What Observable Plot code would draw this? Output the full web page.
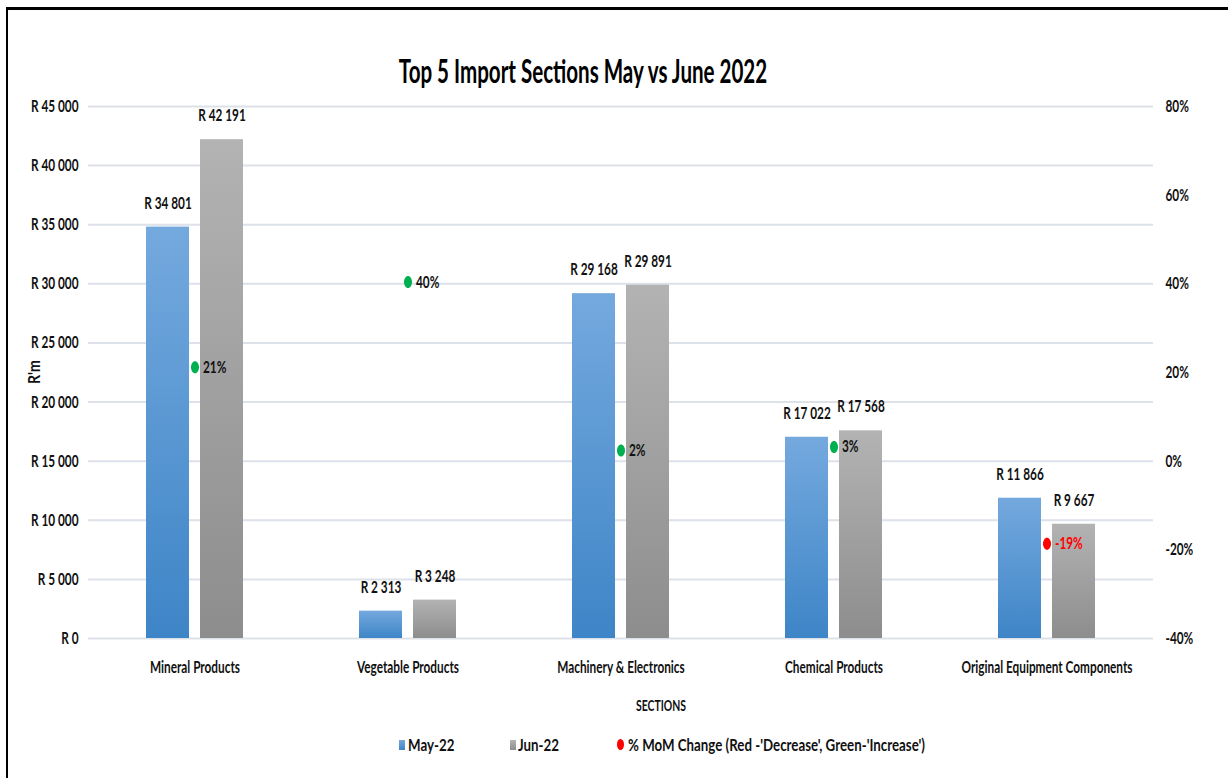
<!DOCTYPE html>
<html>
<head>
<meta charset="utf-8">
<script src="https://cdn.jsdelivr.net/npm/d3@7"></script>
<script src="https://cdn.jsdelivr.net/npm/@observablehq/plot@0.6"></script>
<style>
  html, body { margin: 0; padding: 0; background: #fff; }
  #wrap { position: relative; width: 1228px; height: 778px; overflow: hidden; background: #fff;
          font-family: Lato, "Open Sans", sans-serif; color: #111; }
  #frame { position: absolute; left: 6px; top: 7px; width: 1400px; height: 900px;
           border-top: 3px solid #000; border-left: 2px solid #000; z-index: 5; pointer-events: none; }
  #title { position: absolute; top: 54px; left: 583px; white-space: nowrap; font-size: 33px; line-height: 33px;
           font-weight: bold; color: #000; }
  #chart { position: absolute; left: 0; top: 92px; }
  #ylab { position: absolute; left: 33px; top: 372px; font-size: 17px; line-height: 17px; font-weight: bold; white-space: nowrap; }
  #xlab { position: absolute; left: 661px; top: 705px; font-size: 16px; line-height: 16px; font-weight: bold; white-space: nowrap; }
  .legt { position: absolute; top: 736px; font-size: 17px; line-height: 18px; font-weight: bold; white-space: nowrap;
          transform-origin: 0 50%; }
  .sw { position: absolute; top: 740px; width: 6px; height: 10px; }
  .el { position: absolute; top: 739px; width: 7px; height: 11px; border-radius: 50%; background: #ff0000; }
</style>
</head>
<body>
<div id="wrap">
  <div id="frame"></div>
  <div id="title">Top 5 Import Sections May vs June 2022</div>
  <div id="chart"></div>
  <div id="ylab">R'm</div>
  <div id="xlab">SECTIONS</div>
  <div class="sw" style="left:399px;background:linear-gradient(#72a7dd,#3e85c7)"></div>
  <div class="legt" style="left:408px">May-22</div>
  <div class="sw" style="left:510px;background:linear-gradient(#b3b3b3,#8d8d8d)"></div>
  <div class="legt" style="left:518px">Jun-22</div>
  <div class="el" style="left:617px"></div>
  <div class="legt" id="legMom" style="left:628px">% MoM Change (Red -'Decrease', Green-'Increase')</div>
</div>
<script>
// ---- data ----
const sections = ["Mineral Products", "Vegetable Products", "Machinery & Electronics", "Chemical Products", "Original Equipment Components"];
const seriesNames = ["May-22", "Jun-22"];
const may22 = [34801, 2313, 29168, 17022, 11866];
const jun22 = [42191, 3248, 29891, 17568, 9667];
const momPct = [21.2, 40.4, 2.4, 3.2, -18.6];
const leftTicks = [0, 5000, 10000, 15000, 20000, 25000, 30000, 35000, 40000, 45000];
const rightTicks = [-40, -20, 0, 20, 40, 60, 80];

// ---- derived tables ----
const bars = [];
sections.forEach((s, i) => {
  bars.push({section: s, series: seriesNames[0], value: may22[i]});
  bars.push({section: s, series: seriesNames[1], value: jun22[i]});
});
const mom = sections.map((s, i) => ({section: s, pct: momPct[i]}));

const yMax = leftTicks[leftTicks.length - 1];
const pMin = rightTicks[0], pMax = rightTicks[rightTicks.length - 1];
const toLeft = p => (p - pMin) / (pMax - pMin) * yMax;
const fromLeft = v => v / yMax * (pMax - pMin) + pMin;
const fmtR = v => "R " + d3.format(",")(v).replace(/,/g, " ");

const ellipse = {
  draw(ctx) {
    const rx = 4, ry = 6, k = 0.5523;
    ctx.moveTo(rx, 0);
    ctx.bezierCurveTo(rx, ry * k, rx * k, ry, 0, ry);
    ctx.bezierCurveTo(-rx * k, ry, -rx, ry * k, -rx, 0);
    ctx.bezierCurveTo(-rx, -ry * k, -rx * k, -ry, 0, -ry);
    ctx.bezierCurveTo(rx * k, -ry, rx, -ry * k, rx, 0);
    ctx.closePath();
  }
};

const FONT = 'Lato, "Open Sans", sans-serif';

// horizontal condensing factors so the text widths match the (condensed) reference
const cv = document.createElement("canvas").getContext("2d");
const measure = (txt, px) => { cv.font = `bold ${px}px ${FONT}`; return cv.measureText(txt).width; };
const sx = 90 / measure("Mineral Products", 17);
const sxTitle = 370 / measure("Top 5 Import Sections May vs June 2022", 33);
const sxLeg = 297 / measure("% MoM Change (Red -'Decrease', Green-'Increase')", 17);
const sxSec = 50 / measure("SECTIONS", 16);
const sxY = 24 / measure("R'm", 17);

const chart = Plot.plot({
  width: 1228,
  height: 628,
  marginTop: 14,
  marginBottom: 82,
  marginLeft: 88,
  marginRight: 75,
  style: {fontFamily: FONT, fontSize: "17px", fontWeight: "bold", color: "#111", background: "transparent", overflow: "visible"},
  fx: {domain: sections, padding: 0, axis: "bottom", label: null, tickSize: 0, tickPadding: 22},
  x: {domain: seriesNames, paddingInner: 0.204, paddingOuter: 1.074, axis: null},
  y: {domain: [0, yMax], axis: null},
  marks: [
    Plot.gridY(leftTicks, {stroke: "#dde2ea", strokeOpacity: 1, strokeWidth: 2}),
    Plot.axisY(leftTicks, {anchor: "left", tickSize: 0, tickPadding: 10, tickFormat: fmtR, label: null}),
    Plot.axisY(rightTicks.map(toLeft), {anchor: "right", tickSize: 0, tickPadding: 12,
      tickFormat: v => Math.round(fromLeft(v)) + "%", label: null}),
    Plot.barY(bars.filter(d => d.series === seriesNames[0]), {fx: "section", x: "series", y: "value", fill: "url(#gMay)"}),
    Plot.barY(bars.filter(d => d.series === seriesNames[1]), {fx: "section", x: "series", y: "value", fill: "url(#gJun)"}),
    Plot.text(bars, {fx: "section", x: "series", y: "value", text: d => fmtR(d.value), dy: -24, lineAnchor: "middle", fill: "#111"}),
    Plot.dot(mom, {fx: "section", y: d => toLeft(d.pct), symbol: ellipse, r: 5,
      fill: d => d.pct < 0 ? "#ff0000" : "#00b050", stroke: "none"}),
    Plot.text(mom, {fx: "section", y: d => toLeft(d.pct), text: d => Math.round(d.pct) + "%", dx: 8,
      textAnchor: "start", lineAnchor: "middle", fill: d => d.pct < 0 ? "#ff0000" : "#111"})
  ]
});

const NS = "http://www.w3.org/2000/svg";
const defs = document.createElementNS(NS, "defs");
defs.innerHTML =
  '<linearGradient id="gMay" x1="0" y1="0" x2="0" y2="1"><stop offset="0" stop-color="#74a9de"/><stop offset="1" stop-color="#3e85c7"/></linearGradient>' +
  '<linearGradient id="gJun" x1="0" y1="0" x2="0" y2="1"><stop offset="0" stop-color="#b3b3b3"/><stop offset="1" stop-color="#8d8d8d"/></linearGradient>';
chart.prepend(defs);

// condense every text horizontally around its own anchor point
chart.querySelectorAll("text").forEach(el => {
  const t = el.getAttribute("transform");
  if (t) {
    el.setAttribute("transform", t + ` scale(${sx},1)`);
  } else {
    const x = +(el.getAttribute("x") || 0), y = +(el.getAttribute("y") || 0);
    el.removeAttribute("x"); el.removeAttribute("y");
    el.setAttribute("transform", `translate(${x},${y}) scale(${sx},1)`);
  }
});
document.getElementById("chart").appendChild(chart);

document.getElementById("title").style.transform = `translateX(-50%) scaleX(${sxTitle})`;
document.getElementById("xlab").style.transform = `translate(-50%, -50%) scaleX(${sxSec})`;
document.getElementById("ylab").style.transform = `translate(-50%, -50%) rotate(-90deg) scaleX(${sxY})`;
document.querySelectorAll(".legt").forEach(el => el.style.transform = `scaleX(${sxLeg})`);
</script>
</body>
</html>
